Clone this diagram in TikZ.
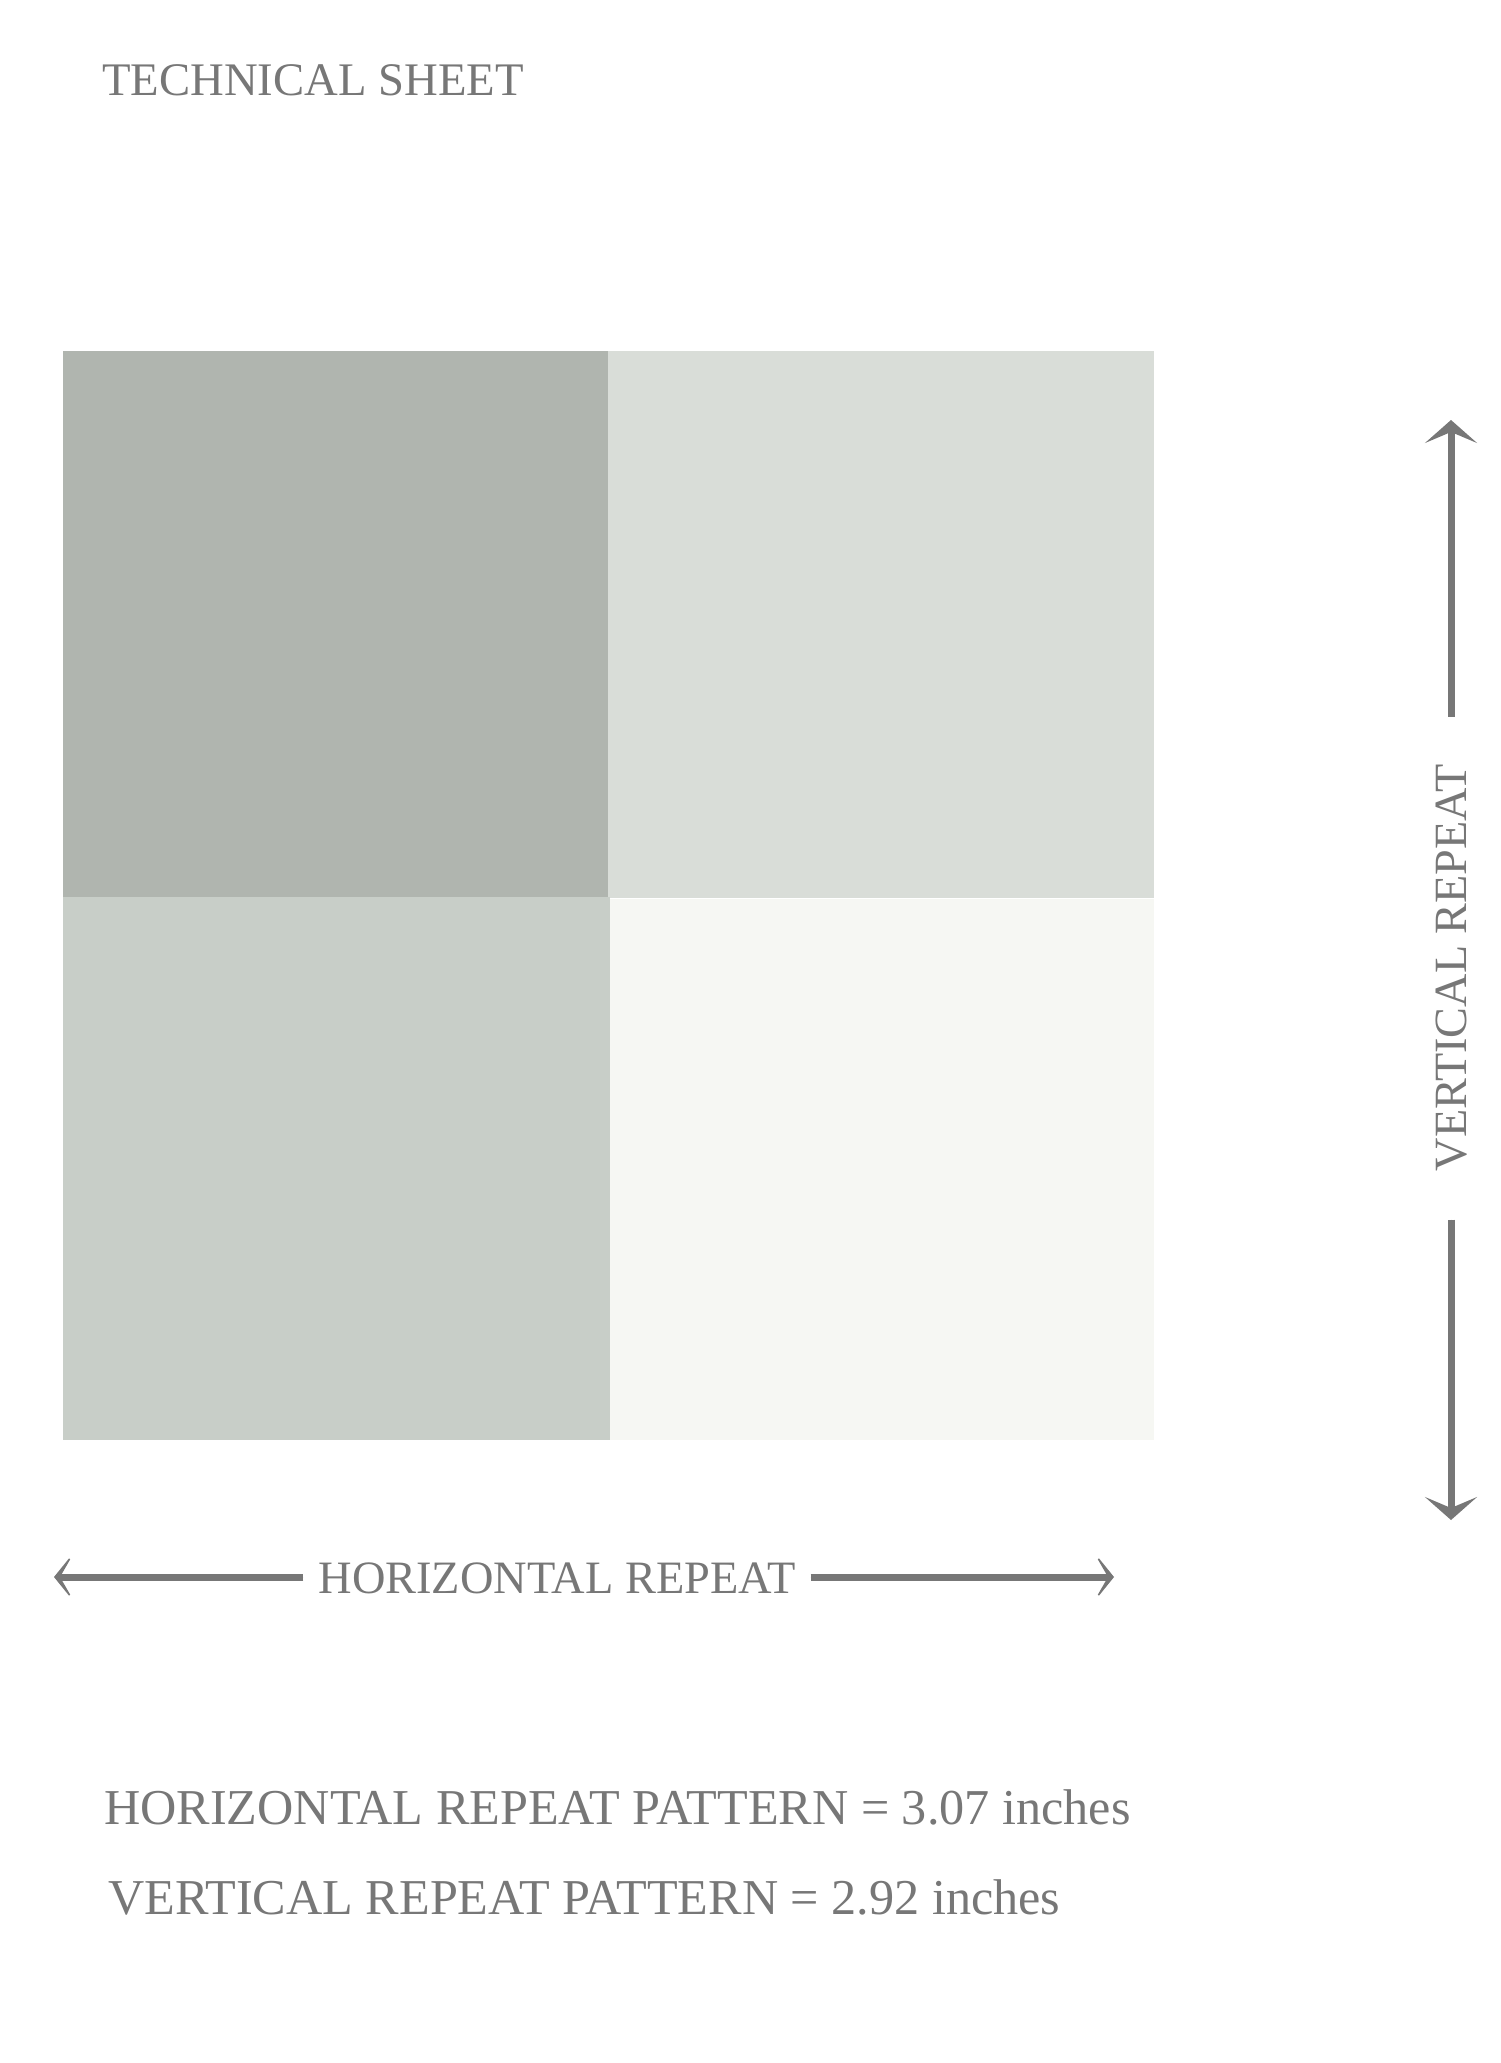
\documentclass[tikz,border=0pt]{standalone}
\usepackage{fontspec}
\setmainfont{Liberation Serif}
\usetikzlibrary{arrows.meta}
\definecolor{inkgray}{HTML}{777777}
\definecolor{tileA}{HTML}{B0B5AF}
\definecolor{tileB}{HTML}{D9DDD8}
\definecolor{tileC}{HTML}{C8CEC8}
\definecolor{tileD}{HTML}{F6F7F3}
\tikzset{
  lbl/.style={inner sep=0pt, text=inkgray},
  vtip/.style={-{Stealth[length=23pt,width=52pt,inset=11pt]}},
  htip/.style={-{Stealth[length=21pt,width=52pt,inset=15pt]}},
  arr/.style={draw=inkgray, fill=inkgray, line width=7pt},
}
\begin{document}
\begin{tikzpicture}[x=1pt,y=1pt]
\useasboundingbox (0,0) rectangle (1500,-2063);
\fill[white] (0,0) rectangle (1500,-2063);
% tiles
\fill[tileA] (63,-351) rectangle (609,-898);
\fill[tileB] (608,-351) rectangle (1154,-898);
\fill[tileC] (63,-897) rectangle (610,-1440);
\fill[tileD] (610,-899) rectangle (1154,-1440);
% title
\node[lbl, anchor=base west, font=\fontsize{46.7}{55}\selectfont] (title) at (102,-96) {TECHNICAL SHEET};
% horizontal repeat
\node[lbl, inner xsep=15pt, anchor=base, font=\fontsize{46.4}{55}\selectfont] (hlabel) at (557,-1593) {HORIZONTAL REPEAT};
\coordinate (hleft) at (54,-1577);
\coordinate (hright) at (1114,-1577);
\draw[arr, htip] (hlabel.west |- hleft) -- (hleft);
\draw[arr, htip] (hlabel.east |- hright) -- (hright);
% vertical repeat
\node[lbl, inner xsep=48pt, rotate=90, anchor=base, font=\fontsize{46.2}{55}\selectfont] (vlabel) at (1466,-968) {VERTICAL REPEAT};
\coordinate (vtop) at (1451,-420);
\coordinate (vbot) at (1451,-1520);
\draw[arr, vtip] (vlabel.east -| vtop) -- (vtop);
\draw[arr, vtip] (vlabel.west -| vbot) -- (vbot);
% bottom lines
\node[lbl, anchor=base west, font=\fontsize{50.2}{60}\selectfont] (hpat) at (104,-1824) {HORIZONTAL REPEAT PATTERN = 3.07 inches};
\node[lbl, anchor=base west, font=\fontsize{50.2}{60}\selectfont] (vpat) at (108,-1914) {VERTICAL REPEAT PATTERN = 2.92 inches};
\end{tikzpicture}
\end{document}
